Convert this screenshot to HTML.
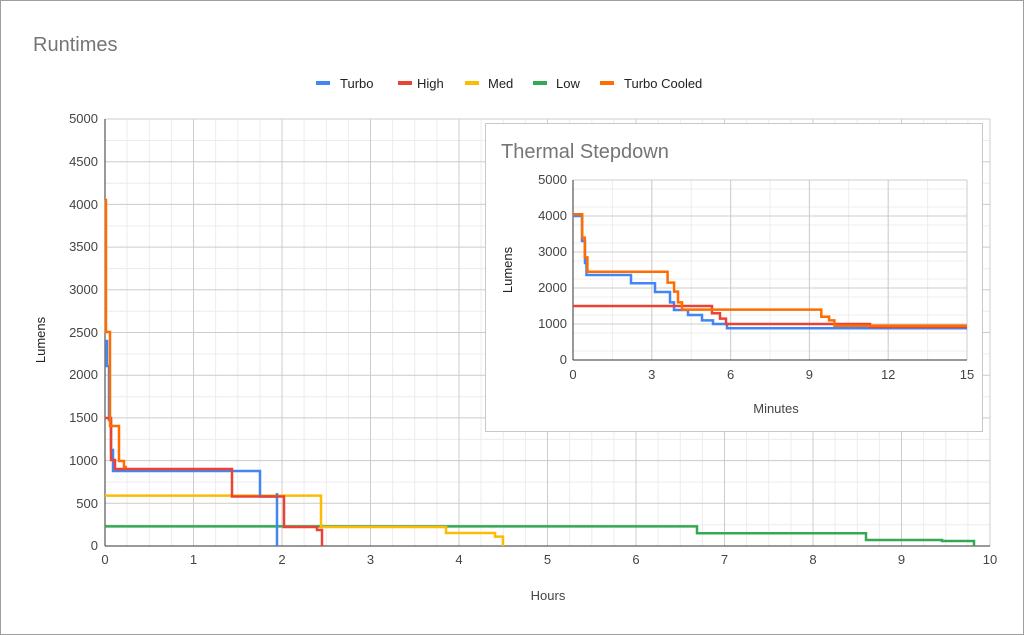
<!DOCTYPE html>
<html><head><meta charset="utf-8"><style>
html,body{margin:0;padding:0;background:#fff}
svg{display:block;font-family:"Liberation Sans",Arial,sans-serif}
</style></head><body>
<svg width="1024" height="635" viewBox="0 0 1024 635" xmlns="http://www.w3.org/2000/svg">
<rect x="0.5" y="0.5" width="1023" height="634" fill="#fff" stroke="#9e9e9e"/>
<text x="33" y="51" font-size="20" fill="#757575">Runtimes</text>
<g font-size="13" fill="#222">
<rect x="316" y="81" width="14" height="4" fill="#4285f4"/><text x="340" y="88">Turbo</text>
<rect x="398" y="81" width="14" height="4" fill="#ea4335"/><text x="417" y="88">High</text>
<rect x="465" y="81" width="14" height="4" fill="#fbbc04"/><text x="488" y="88">Med</text>
<rect x="533" y="81" width="14" height="4" fill="#34a853"/><text x="556" y="88">Low</text>
<rect x="600" y="81" width="14" height="4" fill="#ff6d01"/><text x="624" y="88">Turbo Cooled</text>
</g>
<g stroke="#ececec" stroke-width="1">
<path d="M105,140.5H990M105,183.2H990M105,225.9H990M105,268.6H990M105,311.3H990M105,354H990M105,396.7H990M105,439.4H990M105,482.1H990M105,524.8H990"/>
<path d="M127.1,119V546M149.3,119V546M171.4,119V546M215.6,119V546M237.8,119V546M259.9,119V546M304.1,119V546M326.3,119V546M348.4,119V546M392.6,119V546M414.8,119V546M436.9,119V546M481.1,119V546M503.3,119V546M525.4,119V546M569.6,119V546M591.8,119V546M613.9,119V546M658.1,119V546M680.3,119V546M702.4,119V546M746.6,119V546M768.8,119V546M790.9,119V546M835.1,119V546M857.3,119V546M879.4,119V546M923.6,119V546M945.8,119V546M967.9,119V546"/>
</g>
<g stroke="#cccccc" stroke-width="1">
<path d="M105,119H990M105,161.7H990M105,204.4H990M105,247.1H990M105,289.8H990M105,332.5H990M105,375.2H990M105,417.9H990M105,460.6H990M105,503.3H990"/>
<path d="M193.5,119V546M282,119V546M370.5,119V546M459,119V546M547.5,119V546M636,119V546M724.5,119V546M813,119V546M901.5,119V546M990,119V546"/>
</g>
<path d="M105,546H990M105,119V546" stroke="#333" stroke-width="1"/>
<g font-size="13" fill="#444" text-anchor="end">
<text x="98" y="550">0</text><text x="98" y="508">500</text><text x="98" y="465">1000</text><text x="98" y="422">1500</text><text x="98" y="379">2000</text><text x="98" y="337">2500</text><text x="98" y="294">3000</text><text x="98" y="251">3500</text><text x="98" y="209">4000</text><text x="98" y="166">4500</text><text x="98" y="123">5000</text>
</g>
<g font-size="13" fill="#444" text-anchor="middle">
<text x="105" y="564">0</text><text x="193.5" y="564">1</text><text x="282" y="564">2</text><text x="370.5" y="564">3</text><text x="459" y="564">4</text><text x="547.5" y="564">5</text><text x="636" y="564">6</text><text x="724.5" y="564">7</text><text x="813" y="564">8</text><text x="901.5" y="564">9</text><text x="990" y="564">10</text>
<text x="548" y="600">Hours</text>
</g>
<text transform="translate(45,340) rotate(-90)" font-size="13" fill="#222" text-anchor="middle">Lumens</text>
<g fill="none" stroke-width="2.5" stroke-linejoin="miter">
<path stroke="#34a853" d="M105,526.4H697V533.2H866V540H942V541H974V546"/>
<path stroke="#fbbc04" d="M105,495.6H321V527H446V533H495V536.6H503V546"/>
<path stroke="#4285f4" d="M105,341H107V366H109V420H111V450H113V471H260V496.5H277V546M277,493V496"/>
<path stroke="#ea4335" d="M105,418H111V460H115V469H232V496.5H284V527H317V530H322V546"/>
<path stroke="#ff6d01" d="M105,200H106V332H110V426H119V461H124V467H127"/>
</g>
<rect x="485.5" y="123.5" width="497" height="308" fill="#fff" stroke="#c8c8c8"/>
<text x="501" y="158" font-size="20" fill="#757575">Thermal Stepdown</text>
<g stroke="#ececec"><path d="M573,189H967M573,207H967M573,225H967M573,243H967M573,261H967M573,279H967M573,297H967M573,315H967M573,333H967M573,351H967"/>
<path d="M612.4,180V360M651.8,180V360M691.2,180V360M730.6,180V360M770,180V360M809.4,180V360M848.8,180V360M888.2,180V360M927.6,180V360"/></g>
<g stroke="#cccccc"><path d="M573,180H967M573,216H967M573,252H967M573,288H967M573,324H967"/>
<path d="M651.8,180V360M730.6,180V360M809.4,180V360M888.2,180V360M967,180V360"/></g>
<path d="M573,360H967M573,180V360" stroke="#333"/>
<g font-size="13" fill="#444" text-anchor="end">
<text x="567" y="364">0</text><text x="567" y="328">1000</text><text x="567" y="292">2000</text><text x="567" y="256">3000</text><text x="567" y="220">4000</text><text x="567" y="184">5000</text>
</g>
<g font-size="13" fill="#444" text-anchor="middle">
<text x="573" y="379">0</text><text x="651.8" y="379">3</text><text x="730.6" y="379">6</text><text x="809.4" y="379">9</text><text x="888.2" y="379">12</text><text x="967" y="379">15</text>
<text x="776" y="413">Minutes</text>
</g>
<text transform="translate(512,270) rotate(-90)" font-size="13" fill="#222" text-anchor="middle">Lumens</text>
<g fill="none" stroke-width="2.5">
<path stroke="#4285f4" d="M573,216H582V241H585V263H586.5V275H631V283.3H655V292H670V302.4H674V310H688V315H702V320.4H713V324H727V328.3H967"/>
<path stroke="#ea4335" d="M573,306H712V313.2H720V318.6H726V324H870V327H967"/>
<path stroke="#ff6d01" d="M573,214.2H582.2V237.6H584.8V257.4H587.4V271.8H667.6V282.6H674.1V291.6H678V302.4H682V309.6H821.3V316.8H829.1V320.4H834.4V325.8H967"/>
</g>
</svg>
</body></html>
